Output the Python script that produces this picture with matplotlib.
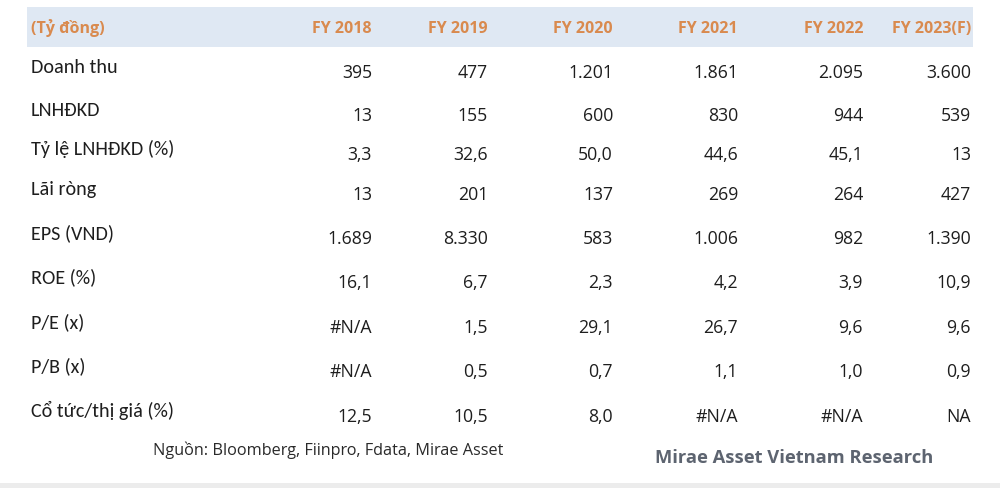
import glob
import matplotlib
matplotlib.use("Agg")
import matplotlib.pyplot as plt
from matplotlib import font_manager as fm
from matplotlib.patches import Rectangle

# dữ liệu bảng
unit_label = "(Tỷ đồng)"
years = ["FY 2018", "FY 2019", "FY 2020", "FY 2021", "FY 2022", "FY 2023(F)"]
row_labels = ["Doanh thu", "LNHĐKD", "Tỷ lệ LNHĐKD (%)", "Lãi ròng", "EPS (VND)",
              "ROE (%)", "P/E (x)", "P/B (x)", "Cổ tức/thị giá (%)"]
doanh_thu = ["395", "477", "1.201", "1.861", "2.095", "3.600"]
lnhdkd = ["13", "155", "600", "830", "944", "539"]
ty_le = ["3,3", "32,6", "50,0", "44,6", "45,1", "13"]
lai_rong = ["13", "201", "137", "269", "264", "427"]
eps = ["1.689", "8.330", "583", "1.006", "982", "1.390"]
roe = ["16,1", "6,7", "2,3", "4,2", "3,9", "10,9"]
pe = ["#N/A", "1,5", "29,1", "26,7", "9,6", "9,6"]
pb = ["#N/A", "0,5", "0,7", "1,1", "1,0", "0,9"]
co_tuc = ["12,5", "10,5", "8,0", "#N/A", "#N/A", "NA"]
rows = [doanh_thu, lnhdkd, ty_le, lai_rong, eps, roe, pe, pb, co_tuc]
source = "Nguồn: Bloomberg, Fiinpro, Fdata, Mirae Asset"
brand = "Mirae Asset Vietnam Research"

# phông chữ: ưu tiên file tĩnh của Open Sans
names = {f.name for f in fm.fontManager.ttflist}
reg_files = glob.glob("/usr/share/fonts/**/OpenSans-Regular.ttf", recursive=True)
if reg_files:
    os_reg = fm.FontProperties(fname=reg_files[0])
else:
    os_reg = fm.FontProperties(family="Open Sans")
bold_files = glob.glob("/usr/share/fonts/**/OpenSans-Bold.ttf", recursive=True)
if bold_files:
    os_bold = fm.FontProperties(fname=bold_files[0])
else:
    os_bold = fm.FontProperties(family="Open Sans", weight="bold")
label_family = "Carlito" if "Carlito" in names else "Lato"

# bố cục (pixel)
col_right = [372, 488, 613, 738, 863, 971]
row_base = [73, 116, 155, 195, 239, 283, 328, 372, 417]
orange = "#d98a4e"
dark = "#1e1e1e"

fig = plt.figure(figsize=(10, 4.88), dpi=100, facecolor="white")
ax = fig.add_axes([0, 0, 1, 1])
ax.set_xlim(0, 1000)
ax.set_ylim(488, 0)
ax.axis("off")

ax.add_patch(Rectangle((27, 7), 946, 40, color="#dfe8f3", lw=0))
ax.add_patch(Rectangle((0, 483), 1000, 5, color="#ececec", lw=0))

ax.text(31, 33, unit_label, ha="left", va="baseline", fontproperties=os_bold,
        fontsize=11.5, color=orange)
for x, y in zip(col_right, years):
    ax.text(x, 33, y, ha="right", va="baseline", fontproperties=os_bold,
            fontsize=11.5, color=orange)

for yb, lab, vals in zip(row_base, row_labels, rows):
    ax.text(31, yb, lab, family=label_family, fontsize=14.5, color=dark,
            ha="left", va="baseline")
    for x, v in zip(col_right, vals):
        ax.text(x, yb + 5, v, fontproperties=os_reg, fontsize=12.7, color=dark,
                ha="right", va="baseline")

ax.text(153, 455, source, fontproperties=os_reg, fontsize=11.7, color="#2a2a2a",
        ha="left", va="baseline")
ax.text(655, 463, brand, fontproperties=os_bold, fontsize=13.2, color="#5d6470",
        ha="left", va="baseline")

fig.savefig("out.png", dpi=100, facecolor="white")
